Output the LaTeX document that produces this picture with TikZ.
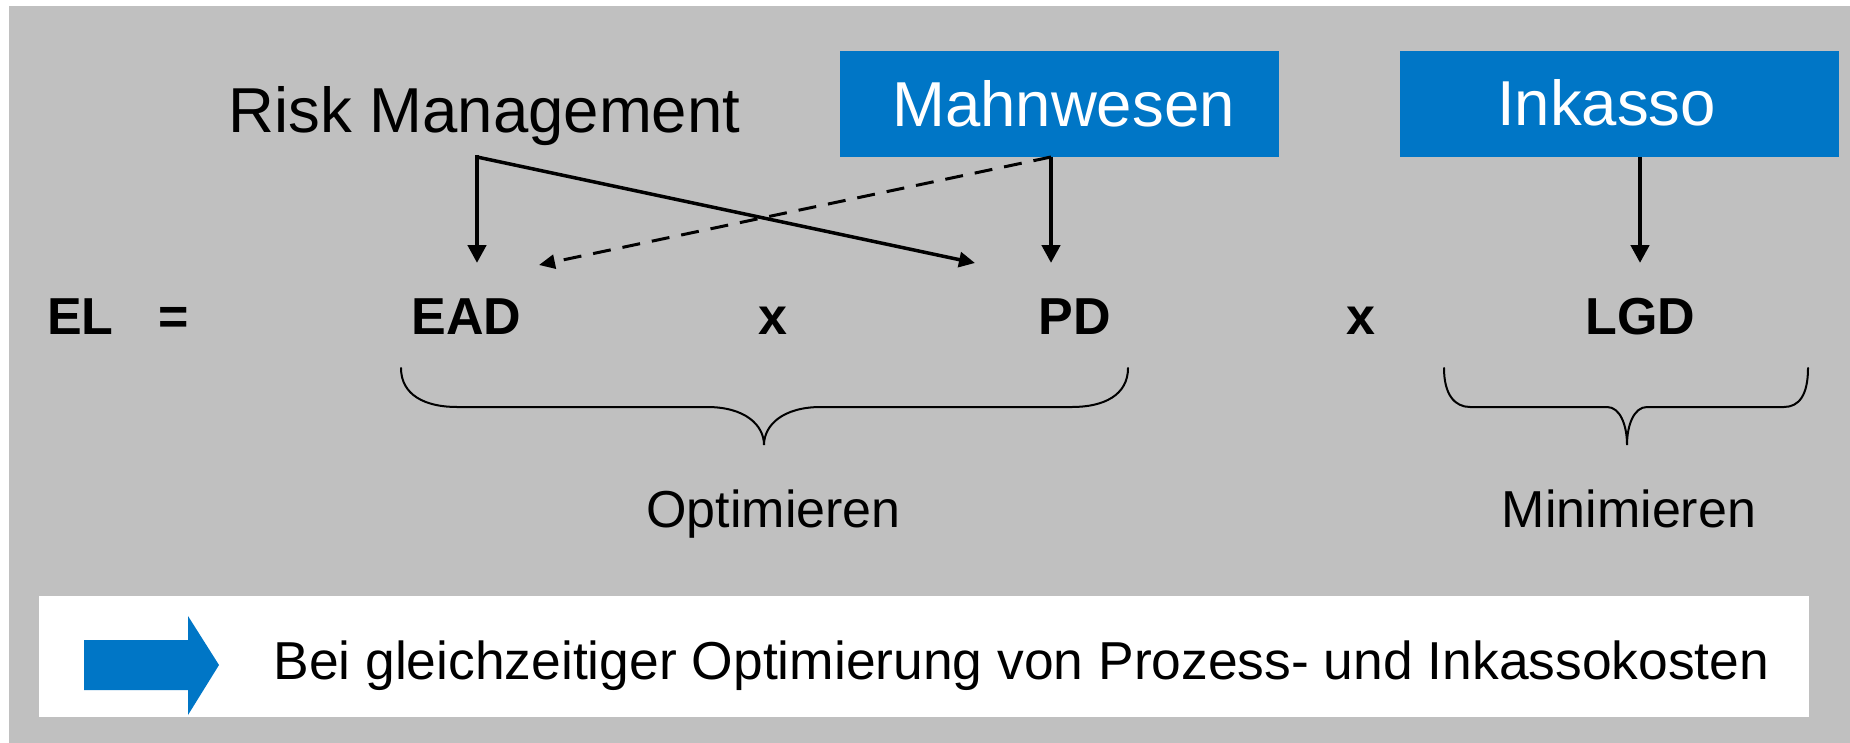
\documentclass[tikz,border=0pt]{standalone}
\usepackage{fontspec}
\setmainfont{Liberation Sans}
\usetikzlibrary{arrows.meta}
\definecolor{bg}{RGB}{192,192,192}
\definecolor{blu}{RGB}{0,118,198}
\begin{document}
\begin{tikzpicture}[x=0.5pt,y=-0.5pt,
  big/.style={inner sep=0pt, anchor=base, font=\fontsize{31.75}{36}\selectfont},
  wbig/.style={big, text=white},
  eq/.style={inner sep=0pt, anchor=base, font=\fontsize{26}{30}\selectfont\bfseries},
  mid/.style={inner sep=0pt, anchor=base, font=\fontsize{26}{30}\selectfont},
  bluebox/.style={fill=blu, draw=none, minimum width=219.5pt, minimum height=53pt, inner sep=0pt},
  varr/.style={line width=2.25pt, -{Triangle[length=9pt,width=9pt]}},
  darr/.style={line width=1.75pt, -{Triangle[length=8pt,width=7.5pt]}},
  brace/.style={line width=1pt, line cap=round}
]
\useasboundingbox (0,0) rectangle (1850,743);
\fill[white] (0,0) rectangle (1850,743);
\fill[bg] (9,6) rectangle (1850,743);

% boxes
\node[bluebox] (mwbox) at (1059.5,104) {};
\node[bluebox] (ikbox) at (1619.5,104) {};

% labels
\node[big] (rm) at (484.5,133) {Risk Management};
\node[wbig] (mw) at (1063.5,127) {Mahnwesen};
\node[wbig] (ik) at (1606.5,126) {Inkasso};

% formula
\node[eq] (el) at (80.5,334) {EL};
\node[eq] (is) at (173.5,334) {=};
\node[eq] (ead) at (466.5,334) {EAD};
\node[eq] (x1) at (772.5,334) {x};
\node[eq] (pd) at (1075,334) {PD};
\node[eq] (x2) at (1360.5,334) {x};
\node[eq] (lgd) at (1640.5,334) {LGD};

% arrow coordinates
\coordinate (rmc) at (477,157);
\coordinate (mwc) at (1051,157);
\coordinate (ikc) at (1640,157);
\coordinate (eadT) at (477,263);
\coordinate (eadD) at (539,265);
\coordinate (pdR) at (975,263);
\coordinate (pdT) at (1051,263);
\coordinate (lgdT) at (1640,263);

\draw[varr, line cap=rect] (rmc) -- (eadT);
\draw[darr] (rmc) -- (pdR);
\draw[varr] (mwc) -- (pdT);
\draw[line width=1.5pt, -{Triangle[length=8pt,width=7pt]}, dash pattern=on 9pt off 6pt] (mwc) -- (eadD);
\draw[varr] (ikc) -- (lgdT);

% braces
\draw[brace] (401,368) .. controls (401,395) and (425,407) .. (457,407) -- (707,407)
  .. controls (745,407) and (764,425) .. (764,445)
  .. controls (764,425) and (783,407) .. (821,407) -- (1072,407)
  .. controls (1104,407) and (1128,395) .. (1128,368);
\draw[brace] (1444,368) .. controls (1444,395) and (1455,407) .. (1470,407) -- (1607,407)
  .. controls (1620,407) and (1627,425) .. (1627,445)
  .. controls (1627,425) and (1634,407) .. (1647,407) -- (1784,407)
  .. controls (1799,407) and (1808,395) .. (1808,368);

\node[mid] (opt) at (773.5,527) {Optimieren};
\node[mid] (min) at (1629,527) {Minimieren};

% bottom banner
\fill[white] (39,596) rectangle (1809,717);
\fill[blu] (84,640) -- (188,640) -- (188,616) -- (219,665) -- (188,715) -- (188,690) -- (84,690) -- cycle;
\node[inner sep=0pt, anchor=base west, font=\fontsize{26.7}{30}\selectfont] (bei) at (273,679) {Bei gleichzeitiger Optimierung von Prozess- und Inkassokosten};
\end{tikzpicture}
\end{document}
